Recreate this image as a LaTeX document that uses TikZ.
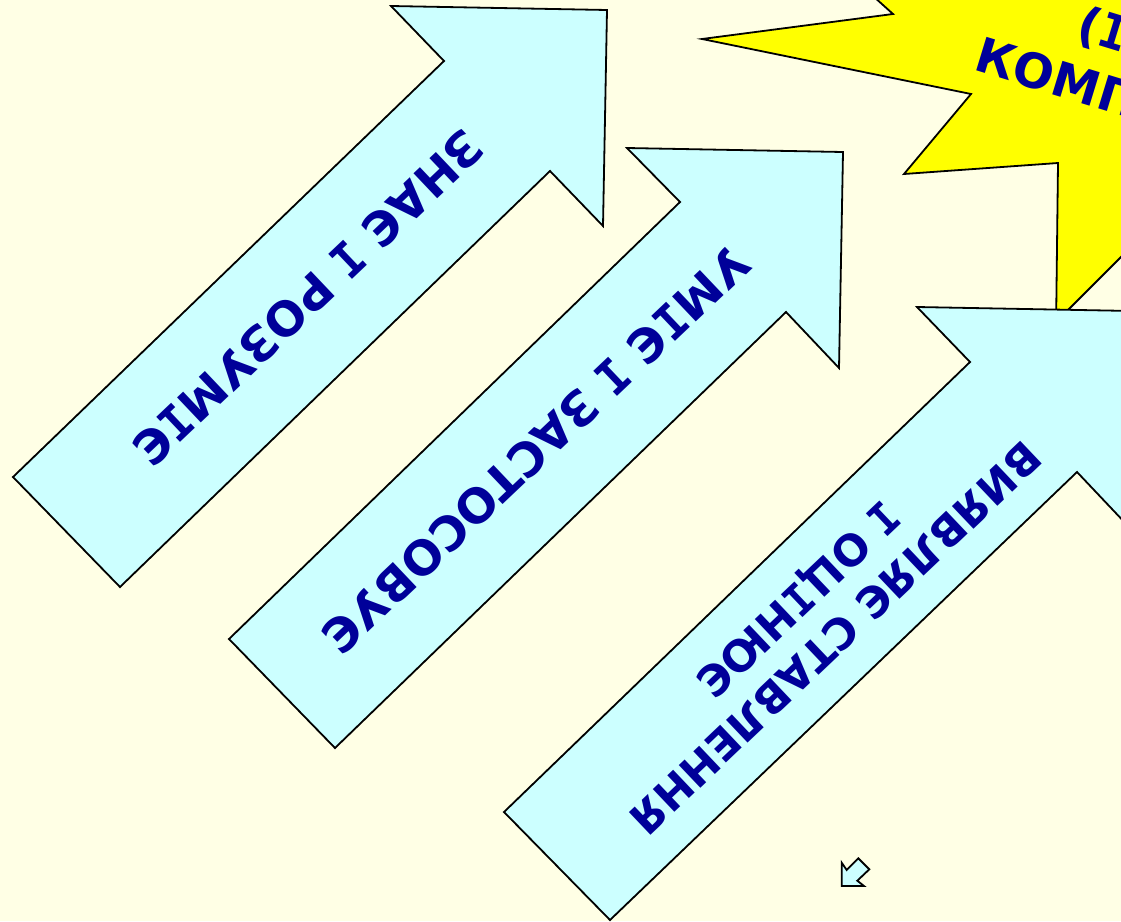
\documentclass[tikz,border=0pt]{standalone}
\usepackage{fontspec}
\setmainfont{DejaVu Sans}
\newfontfamily\serifi{DejaVu Sans Mono}
\newcommand{\II}{{\serifi\bfseries І}}
\definecolor{pagebg}{RGB}{255,255,229}
\definecolor{arrowfill}{RGB}{204,255,255}
\definecolor{labelblue}{RGB}{0,0,153}
\definecolor{burst}{RGB}{255,255,0}
\tikzset{
  shapeline/.style={draw=black,line width=1.8pt,line join=miter},
  bigarrow/.style={shapeline,fill=arrowfill},
  burstshape/.style={shapeline,fill=burst},
  arrowlabel/.style={text=labelblue,font=\fontsize{47.3}{54}\selectfont\bfseries,align=center,rotate=223.5,inner sep=0pt},
  smalllabel/.style={arrowlabel,font=\fontsize{43}{53}\selectfont\bfseries},
  burstlabel/.style={text=labelblue,font=\fontsize{48}{54}\selectfont\bfseries,rotate=-17,inner sep=0pt,anchor=west},
}
\begin{document}
\begin{tikzpicture}[x=1pt,y=-1pt]
\useasboundingbox (0,0) rectangle (1121,921);
\clip (0,0) rectangle (1121,921);
\fill[pagebg] (0,0) rectangle (1121,921);
\draw[burstshape] (873,-4) -- (893,14) -- (702,39) -- (971,94) -- (904,174) -- (1058,163) -- (1056,330) -- (1048,330) -- (1140,238) -- (1140,-10) -- (873,-10) -- cycle;
\draw[bigarrow] (391,6) -- (607,10) -- (603,226) -- (550,171) -- (120,587) -- (13,477) -- (444,61) -- cycle;
\draw[bigarrow] (627,148) -- (843,152) -- (839,368) -- (786,312) -- (335,748) -- (229,639) -- (680,202) -- cycle;
\draw[bigarrow] (917,307) -- (1133,311) -- (1129,527) -- (1077,472) -- (610,920) -- (504,812) -- (970,362) -- cycle;
\draw[bigarrow] (841.7,862.7) -- (846.7,870) -- (858.3,858.3) -- (869.3,869.3) -- (857.3,880.7) -- (864,886) -- (841.7,886) -- cycle;
\node[arrowlabel] (know) at (308,298) {ЗНАЄ \II{} РОЗУМ\II{}Є};
\node[arrowlabel] (apply) at (536,450) {УМ\II{}Є \II{} ЗАСТОСОВУЄ};
\node[smalllabel] (attitude) at (815,617) {ВИЯВЛЯЄ СТАВЛЕННЯ\\\II{} ОЦ\II{}НЮЄ};
\node[burstlabel] (line1) at (1079,24) {(\II};
\node[burstlabel] (line2) at (977,53) {КОМП};
\end{tikzpicture}
\end{document}
